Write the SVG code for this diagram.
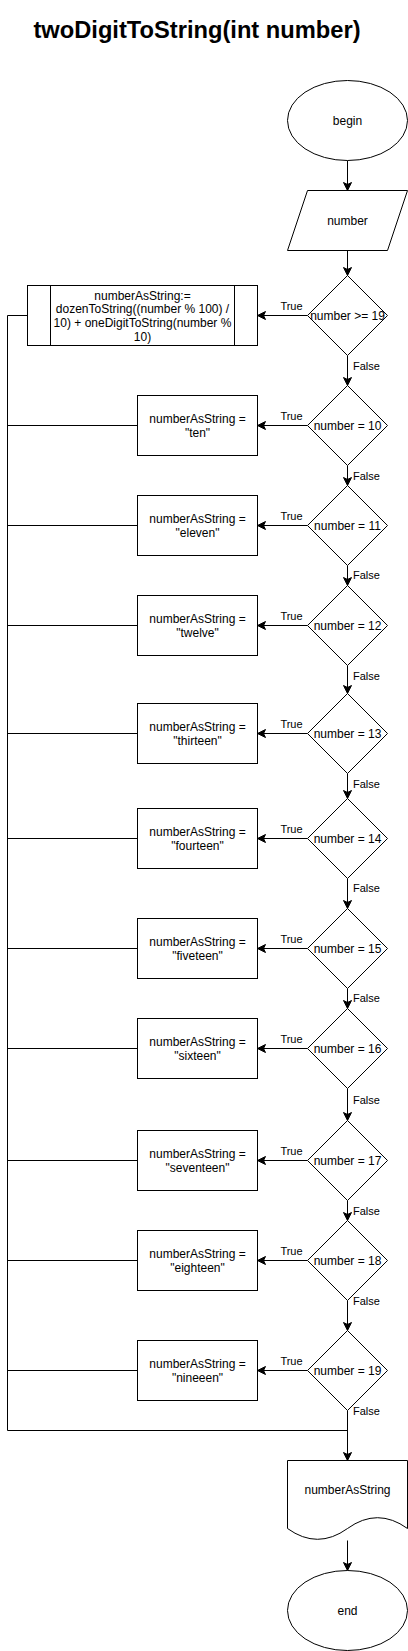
<svg xmlns="http://www.w3.org/2000/svg" width="408" height="1651" viewBox="0 0 408 1651">
<defs>
<style>
.s{fill:#fff;stroke:#000;stroke-width:1}
.t{font-family:"Liberation Sans",Arial,Helvetica,sans-serif;font-size:12px;fill:#000;text-anchor:middle}
.l{font-family:"Liberation Sans",Arial,Helvetica,sans-serif;font-size:11px;fill:#000}
.lt{text-anchor:middle}
.c{fill:none;stroke:#000;stroke-width:1}
.a{marker-end:url(#arr)}
</style>
<marker id="arr" markerUnits="userSpaceOnUse" markerWidth="12" markerHeight="12" viewBox="-10 -6 12 12" refX="0" refY="0" orient="auto">
<path d="M0,0 L-8,-4 L-6,0 L-8,4 Z" fill="#000" stroke="#000" stroke-width="1"/>
</marker>
</defs>
<rect width="408" height="1651" fill="#fff"/>
<text x="197" y="38.3" style="font-family:'Liberation Sans',Arial,Helvetica,sans-serif;font-size:23.7px;font-weight:bold;text-anchor:middle">twoDigitToString(int number)</text>

<g id="connectors">
<line class="c a" x1="347.5" y1="160.5" x2="347.5" y2="190.5"/>
<line class="c a" x1="347.5" y1="250.5" x2="347.5" y2="275.5"/>
<line class="c a" x1="347.5" y1="355.5" x2="347.5" y2="385.5"/>
<line class="c a" x1="347.5" y1="465.5" x2="347.5" y2="485.5"/>
<line class="c a" x1="347.5" y1="565.5" x2="347.5" y2="585.5"/>
<line class="c a" x1="347.5" y1="665.5" x2="347.5" y2="693.5"/>
<line class="c a" x1="347.5" y1="773.5" x2="347.5" y2="798.5"/>
<line class="c a" x1="347.5" y1="878.5" x2="347.5" y2="908.5"/>
<line class="c a" x1="347.5" y1="988.5" x2="347.5" y2="1008.5"/>
<line class="c a" x1="347.5" y1="1088.5" x2="347.5" y2="1120.5"/>
<line class="c a" x1="347.5" y1="1200.5" x2="347.5" y2="1220.5"/>
<line class="c a" x1="347.5" y1="1300.5" x2="347.5" y2="1330.5"/>
<line class="c a" x1="347.5" y1="1410.5" x2="347.5" y2="1460.5"/>
<line class="c a" x1="347.5" y1="1540.5" x2="347.5" y2="1570.5"/>
<line class="c a" x1="307.5" y1="315.5" x2="257.5" y2="315.5"/>
<line class="c a" x1="307.5" y1="425.5" x2="257.5" y2="425.5"/>
<line class="c a" x1="307.5" y1="525.5" x2="257.5" y2="525.5"/>
<line class="c a" x1="307.5" y1="625.5" x2="257.5" y2="625.5"/>
<line class="c a" x1="307.5" y1="733.5" x2="257.5" y2="733.5"/>
<line class="c a" x1="307.5" y1="838.5" x2="257.5" y2="838.5"/>
<line class="c a" x1="307.5" y1="948.5" x2="257.5" y2="948.5"/>
<line class="c a" x1="307.5" y1="1048.5" x2="257.5" y2="1048.5"/>
<line class="c a" x1="307.5" y1="1160.5" x2="257.5" y2="1160.5"/>
<line class="c a" x1="307.5" y1="1260.5" x2="257.5" y2="1260.5"/>
<line class="c a" x1="307.5" y1="1370.5" x2="257.5" y2="1370.5"/>
<line class="c" x1="27.5" y1="315.5" x2="7.5" y2="315.5"/>
<line class="c" x1="137.5" y1="425.5" x2="7.5" y2="425.5"/>
<line class="c" x1="137.5" y1="525.5" x2="7.5" y2="525.5"/>
<line class="c" x1="137.5" y1="625.5" x2="7.5" y2="625.5"/>
<line class="c" x1="137.5" y1="733.5" x2="7.5" y2="733.5"/>
<line class="c" x1="137.5" y1="838.5" x2="7.5" y2="838.5"/>
<line class="c" x1="137.5" y1="948.5" x2="7.5" y2="948.5"/>
<line class="c" x1="137.5" y1="1048.5" x2="7.5" y2="1048.5"/>
<line class="c" x1="137.5" y1="1160.5" x2="7.5" y2="1160.5"/>
<line class="c" x1="137.5" y1="1260.5" x2="7.5" y2="1260.5"/>
<line class="c" x1="137.5" y1="1370.5" x2="7.5" y2="1370.5"/>
<polyline class="c" points="7.5,315.5 7.5,1430.5 347.5,1430.5"/>
<g class="l">
<text class="lt" x="291.5" y="309.5">True</text>
<text class="lt" x="291.5" y="419.5">True</text>
<text class="lt" x="291.5" y="519.5">True</text>
<text class="lt" x="291.5" y="619.5">True</text>
<text class="lt" x="291.5" y="727.5">True</text>
<text class="lt" x="291.5" y="832.5">True</text>
<text class="lt" x="291.5" y="942.5">True</text>
<text class="lt" x="291.5" y="1042.5">True</text>
<text class="lt" x="291.5" y="1154.5">True</text>
<text class="lt" x="291.5" y="1254.5">True</text>
<text class="lt" x="291.5" y="1364.5">True</text>
<text x="353" y="370">False</text>
<text x="353" y="479.7">False</text>
<text x="353" y="579">False</text>
<text x="353" y="679.7">False</text>
<text x="353" y="788">False</text>
<text x="353" y="892">False</text>
<text x="353" y="1002">False</text>
<text x="353" y="1104">False</text>
<text x="353" y="1214.7">False</text>
<text x="353" y="1304.7">False</text>
<text x="353" y="1414.7">False</text>
</g>
</g>

<g id="begin">
<ellipse class="s" cx="347.5" cy="120.5" rx="60" ry="40"/>
<text class="t" x="347.5" y="124.8">begin</text>
</g>
<g id="input">
<polygon class="s" points="307.5,190.5 407.5,190.5 387.5,250.5 287.5,250.5"/>
<text class="t" x="347.5" y="224.8">number</text>
</g>

<g id="d19">
<polygon class="s" points="347.5,275.5 387.5,315.5 347.5,355.5 307.5,315.5"/>
<text class="t" x="347.5" y="319.8">number &gt;= 19</text>
</g>
<g id="p_dozen">
<rect class="s" x="27.5" y="285.5" width="230" height="60"/>
<line class="c" x1="50.5" y1="285.5" x2="50.5" y2="345.5"/>
<line class="c" x1="234.5" y1="285.5" x2="234.5" y2="345.5"/>
<text class="t" x="142.5" y="299.5">numberAsString:=</text>
<text class="t" x="142.5" y="313.2">dozenToString((number % 100) /</text>
<text class="t" x="142.5" y="326.9">10) + oneDigitToString(number %</text>
<text class="t" x="142.5" y="340.6">10)</text>
</g>

<g id="d_10">
<polygon class="s" points="347.5,385.5 387.5,425.5 347.5,465.5 307.5,425.5"/>
<text class="t" x="347.5" y="429.8">number = 10</text>
</g>
<g id="p_10">
<rect class="s" x="137.5" y="395.5" width="120" height="60"/>
<text class="t" x="197.5" y="423.2">numberAsString =</text>
<text class="t" x="197.5" y="436.9">"ten"</text>
</g>

<g id="d_11">
<polygon class="s" points="347.5,485.5 387.5,525.5 347.5,565.5 307.5,525.5"/>
<text class="t" x="347.5" y="529.8">number = 11</text>
</g>
<g id="p_11">
<rect class="s" x="137.5" y="495.5" width="120" height="60"/>
<text class="t" x="197.5" y="523.2">numberAsString =</text>
<text class="t" x="197.5" y="536.9">"eleven"</text>
</g>

<g id="d_12">
<polygon class="s" points="347.5,585.5 387.5,625.5 347.5,665.5 307.5,625.5"/>
<text class="t" x="347.5" y="629.8">number = 12</text>
</g>
<g id="p_12">
<rect class="s" x="137.5" y="595.5" width="120" height="60"/>
<text class="t" x="197.5" y="623.2">numberAsString =</text>
<text class="t" x="197.5" y="636.9">"twelve"</text>
</g>

<g id="d_13">
<polygon class="s" points="347.5,693.5 387.5,733.5 347.5,773.5 307.5,733.5"/>
<text class="t" x="347.5" y="737.8">number = 13</text>
</g>
<g id="p_13">
<rect class="s" x="137.5" y="703.5" width="120" height="60"/>
<text class="t" x="197.5" y="731.2">numberAsString =</text>
<text class="t" x="197.5" y="744.9">"thirteen"</text>
</g>

<g id="d_14">
<polygon class="s" points="347.5,798.5 387.5,838.5 347.5,878.5 307.5,838.5"/>
<text class="t" x="347.5" y="842.8">number = 14</text>
</g>
<g id="p_14">
<rect class="s" x="137.5" y="808.5" width="120" height="60"/>
<text class="t" x="197.5" y="836.2">numberAsString =</text>
<text class="t" x="197.5" y="849.9">"fourteen"</text>
</g>

<g id="d_15">
<polygon class="s" points="347.5,908.5 387.5,948.5 347.5,988.5 307.5,948.5"/>
<text class="t" x="347.5" y="952.8">number = 15</text>
</g>
<g id="p_15">
<rect class="s" x="137.5" y="918.5" width="120" height="60"/>
<text class="t" x="197.5" y="946.2">numberAsString =</text>
<text class="t" x="197.5" y="959.9">"fiveteen"</text>
</g>

<g id="d_16">
<polygon class="s" points="347.5,1008.5 387.5,1048.5 347.5,1088.5 307.5,1048.5"/>
<text class="t" x="347.5" y="1052.8">number = 16</text>
</g>
<g id="p_16">
<rect class="s" x="137.5" y="1018.5" width="120" height="60"/>
<text class="t" x="197.5" y="1046.2">numberAsString =</text>
<text class="t" x="197.5" y="1059.9">"sixteen"</text>
</g>

<g id="d_17">
<polygon class="s" points="347.5,1120.5 387.5,1160.5 347.5,1200.5 307.5,1160.5"/>
<text class="t" x="347.5" y="1164.8">number = 17</text>
</g>
<g id="p_17">
<rect class="s" x="137.5" y="1130.5" width="120" height="60"/>
<text class="t" x="197.5" y="1158.2">numberAsString =</text>
<text class="t" x="197.5" y="1171.9">"seventeen"</text>
</g>

<g id="d_18">
<polygon class="s" points="347.5,1220.5 387.5,1260.5 347.5,1300.5 307.5,1260.5"/>
<text class="t" x="347.5" y="1264.8">number = 18</text>
</g>
<g id="p_18">
<rect class="s" x="137.5" y="1230.5" width="120" height="60"/>
<text class="t" x="197.5" y="1258.2">numberAsString =</text>
<text class="t" x="197.5" y="1271.9">"eighteen"</text>
</g>

<g id="d_19">
<polygon class="s" points="347.5,1330.5 387.5,1370.5 347.5,1410.5 307.5,1370.5"/>
<text class="t" x="347.5" y="1374.8">number = 19</text>
</g>
<g id="p_19">
<rect class="s" x="137.5" y="1340.5" width="120" height="60"/>
<text class="t" x="197.5" y="1368.2">numberAsString =</text>
<text class="t" x="197.5" y="1381.9">"nineeen"</text>
</g>

<g id="output">
<path class="s" d="M287.5,1460.5 L407.5,1460.5 L407.5,1528.5 Q377.5,1506.9 347.5,1528.5 Q317.5,1550.1 287.5,1528.5 Z"/>
<text class="t" x="347.5" y="1493.6">numberAsString</text>
</g>
<g id="end">
<ellipse class="s" cx="347.5" cy="1610.5" rx="60" ry="40"/>
<text class="t" x="347.5" y="1614.8">end</text>
</g>
</svg>
